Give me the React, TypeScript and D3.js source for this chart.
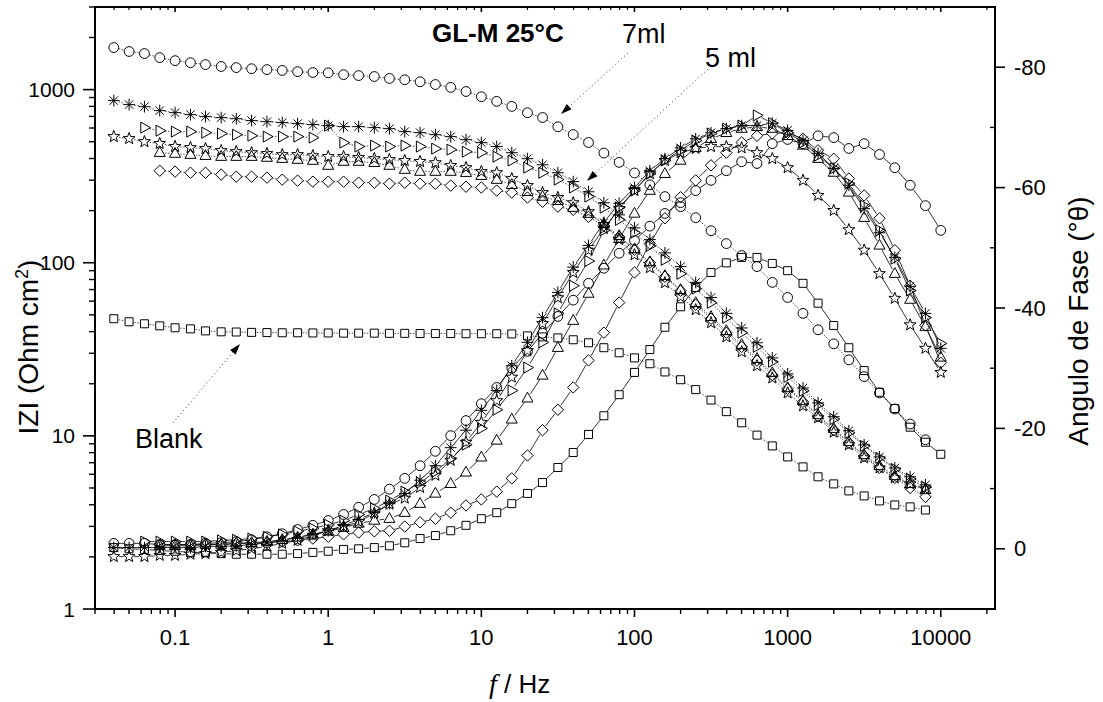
import React from "react";
import * as d3 from "d3";

// Frequencies of the sweep (Hz), 10 points per decade
const FREQ_HZ = [0.0398, 0.0501, 0.0631, 0.0794, 0.1, 0.126, 0.158, 0.2, 0.251, 0.316, 0.398, 0.501, 0.631, 0.794, 1, 1.26, 1.58, 2, 2.51, 3.16, 3.98, 5.01, 6.31, 7.94, 10, 12.6, 15.8, 20, 25.1, 31.6, 39.8, 50.1, 63.1, 79.4, 100, 126, 158, 200, 251, 316, 398, 501, 631, 794, 1000, 1260, 1580, 2000, 2510, 3160, 3980, 5010, 6310, 7940, 10000];

// |Z| (Ohm cm2) series; each starts at FREQ_HZ[start]
const Z_CIRCLE = [1750, 1660, 1615, 1530, 1470, 1430, 1395, 1360, 1340, 1320, 1305, 1290, 1270, 1255, 1250, 1220, 1205, 1190, 1160, 1140, 1110, 1070, 1030, 975, 910, 855, 800, 735, 690, 610, 550, 495, 430, 380, 330, 282, 241, 211, 182, 153, 129, 110, 95, 77, 63, 51, 41, 34, 27.5, 22, 17.7, 14.3, 11.7, 9.5];
const Z_ASTER = [864, 819, 797, 756, 736, 717, 698, 689, 679, 662, 653, 645, 636, 628, 619, 611, 611, 603, 595, 572, 564, 549, 535, 514, 494, 469, 432, 399, 368, 331, 294, 257, 222, 189, 159, 136, 114, 95, 77, 63, 51, 42, 34.5, 28.2, 22.8, 18.9, 15.5, 12.9, 10.7, 8.87, 7.56, 6.53, 5.8, 5.21];
const Z_TRI_RIGHT = [603, 579, 572, 572, 564, 557, 549, 542, 535, 535, 535, 528, 619, 494, 469, 475, 469, 475, 469, 456, 450, 438, 432, 410, 389, 354, 331, 302, 272, 241, 208, 177, 149, 125, 104, 86.3, 70.8, 58.7, 48.1, 39.4, 32.7, 26.8, 21.9, 18.2, 15.1, 12.5, 10.4, 8.75, 7.46, 6.44, 5.64, 5.07];
const Z_STAR = [535, 521, 500, 488, 469, 462, 456, 444, 438, 432, 427, 421, 421, 415, 410, 410, 405, 399, 394, 389, 384, 378, 364, 354, 336, 331, 306, 279, 254, 238, 222, 197, 166, 136, 111, 93.5, 76.6, 63.6, 53.5, 45.0, 37.3, 30.6, 25.4, 21.6, 17.7, 14.9, 12.7, 10.5, 8.87, 7.46, 6.53, 5.72, 5.28, 4.94];
const Z_TRI_UP = [432, 427, 421, 415, 410, 410, 410, 405, 399, 394, 389, 364, 384, 384, 378, 364, 345, 336, 336, 336, 331, 318, 302, 282, 257, 241, 228, 208, 192, 168, 143, 120, 101, 84.1, 69.8, 58.7, 48.7, 40.4, 33.6, 27.9, 23.1, 18.9, 15.9, 13.2, 11.0, 9.23, 7.76, 6.71, 5.87, 5.28, 4.87];
const Z_DIAMOND = [340, 336, 331, 331, 323, 314, 314, 310, 302, 298, 294, 294, 294, 290, 290, 286, 290, 286, 286, 279, 275, 272, 261, 254, 238, 225, 211, 202, 184, 164, 141, 119, 100, 83.0, 68.9, 57.2, 47.5, 39.4, 32.7, 27.2, 22.5, 18.7, 15.7, 13.0, 10.8, 9.12, 7.66, 6.53, 5.72, 5.0, 4.44];
const Z_BLANK = [47.5, 45.6, 44.4, 43.2, 42.1, 41.5, 40.4, 39.9, 39.8, 39.6, 39.5, 39.4, 39.4, 39.3, 39.3, 39.2, 39.2, 39.2, 39.1, 39.1, 39.0, 39.0, 39.0, 38.9, 38.9, 38.9, 38.8, 37.8, 37.3, 36.8, 35.9, 34.5, 32.3, 30.2, 28.2, 26.1, 23.4, 21.1, 18.5, 16.1, 13.8, 11.9, 10.1, 8.75, 7.56, 6.62, 5.8, 5.28, 4.81, 4.5, 4.21, 3.99, 3.89, 3.73];

// Phase angle (degrees) series
const PH_CIRCLE = [-0.9, -0.9, -0.9, -0.7, -0.7, -0.7, -0.9, -1.0, -1.2, -1.5, -2.0, -2.5, -3.2, -3.9, -4.7, -5.7, -6.9, -8.2, -9.9, -11.7, -13.8, -16.2, -18.8, -21.3, -24.1, -26.8, -30.0, -32.8, -35.8, -38.6, -41.3, -44.1, -46.6, -49.1, -51.2, -53.6, -55.7, -57.5, -59.5, -61.2, -62.8, -64.3, -64.0, -67.3, -68.0, -67.3, -68.6, -68.3, -66.5, -67.3, -65.5, -63.3, -60.4, -57.0, -52.9];
const PH_ASTER = [-0.2, -0.2, -0.2, -0.2, -0.2, -0.2, -0.4, -0.4, -0.5, -0.7, -1.0, -1.4, -1.9, -2.4, -3.0, -3.9, -4.9, -6.0, -7.5, -9.2, -11.4, -13.8, -16.8, -19.7, -23.0, -26.3, -30.4, -34.3, -38.4, -42.6, -46.8, -50.4, -54.2, -57.4, -60.0, -62.8, -64.8, -66.6, -68.1, -69.1, -69.8, -70.3, -70.3, -70.7, -69.5, -67.8, -65.7, -63.2, -60.4, -56.5, -52.5, -48.4, -43.6, -39.1, -33.3];
const PH_TRI_RIGHT = [-1.2, -1.2, -1.2, -1.2, -1.2, -1.4, -1.5, -1.7, -2.0, -2.4, -2.9, -3.4, -4.0, -4.7, -5.7, -6.7, -8.0, -9.5, -11.0, -12.8, -15.0, -17.3, -20.0, -23.1, -26.3, -30.1, -34.3, -39.1, -43.7, -47.8, -52.9, -56.7, -59.5, -62.3, -64.5, -66.2, -67.8, -69.0, -69.8, -70.3, -72.0, -70.7, -69.1, -67.5, -65.3, -63.2, -60.7, -57.0, -52.9, -48.2, -42.9, -38.4, -34.1];
const PH_STAR = [1.3, 1.3, 1.3, 1.1, 1.1, 0.9, 0.8, 0.6, 0.3, 0.0, -0.4, -0.9, -1.4, -2.2, -3.0, -3.7, -4.5, -5.9, -7.4, -8.4, -10.2, -12.2, -14.7, -17.7, -21.0, -24.6, -28.5, -32.9, -37.4, -41.7, -45.9, -49.6, -53.2, -56.5, -59.5, -62.3, -64.5, -65.8, -66.5, -66.8, -66.8, -66.6, -65.8, -64.8, -63.3, -61.2, -58.7, -56.2, -53.0, -49.6, -45.7, -41.6, -37.2, -33.3, -29.3];
const PH_TRI_UP = [-0.5, -0.5, -0.5, -0.7, -0.7, -0.9, -1.0, -1.2, -1.5, -1.9, -2.4, -2.9, -3.5, -4.2, -4.7, -5.0, -6.0, -7.5, -9.2, -10.8, -12.7, -15.2, -18.0, -21.5, -25.0, -28.8, -33.4, -37.9, -42.4, -47.1, -51.5, -55.7, -59.5, -62.3, -64.5, -66.6, -68.1, -69.1, -69.8, -70.1, -69.8, -68.6, -67.0, -64.8, -62.5, -59.2, -55.0, -50.4, -45.7, -41.4, -36.9, -31.8];
const PH_DIAMOND = [-0.7, -0.7, -0.7, -0.7, -0.7, -0.9, -0.9, -1.0, -1.2, -1.4, -1.7, -2.0, -2.4, -2.7, -2.9, -3.0, -3.7, -4.4, -5.0, -6.0, -7.2, -8.2, -9.5, -11.7, -15.5, -19.7, -23.1, -26.8, -31.3, -35.9, -40.9, -45.9, -50.7, -54.9, -58.4, -61.2, -63.7, -65.8, -67.5, -68.6, -69.0, -69.1, -68.1, -66.2, -64.8, -61.5, -58.7, -54.9, -49.6, -43.7, -37.1, -30.9];
const PH_SQUARE = [-0.2, 0.0, 0.1, 0.3, 0.4, 0.6, 0.6, 0.8, 0.9, 0.9, 0.9, 0.9, 0.8, 0.6, 0.4, 0.1, 0.0, -0.2, -0.5, -1.0, -1.7, -2.2, -3.0, -3.9, -5.0, -6.0, -7.5, -9.2, -11.0, -13.5, -16.0, -19.0, -22.1, -25.6, -29.3, -33.1, -36.8, -40.2, -43.4, -45.9, -47.5, -48.4, -48.4, -47.4, -46.2, -44.1, -40.8, -37.1, -33.4, -29.6, -26.0, -23.3, -20.2, -17.7, -15.7];

const X_MAJOR = [0.1, 1, 10, 100, 1000, 10000];
const X_LABELS = ["0.1", "1", "10", "100", "1000", "10000"];
const YZ_MAJOR = [1, 10, 100, 1000];
const YZ_LABELS = ["1", "10", "100", "1000"];
const YP_MAJOR = [-80, -60, -40, -20, 0];
const YP_LABELS = ["-80", "-60", "-40", "-20", "0"];
const YP_MINOR = [-70, -50, -30, -10];

const SERIES = [
  { marker: "circle", zStart: 0, z: Z_CIRCLE, pStart: 0, p: PH_CIRCLE },
  { marker: "asterisk", zStart: 0, z: Z_ASTER, pStart: 0, p: PH_ASTER },
  { marker: "triRight", zStart: 2, z: Z_TRI_RIGHT, pStart: 2, p: PH_TRI_RIGHT },
  { marker: "star", zStart: 0, z: Z_STAR, pStart: 0, p: PH_STAR },
  { marker: "triUp", zStart: 3, z: Z_TRI_UP, pStart: 3, p: PH_TRI_UP },
  { marker: "diamond", zStart: 3, z: Z_DIAMOND, pStart: 3, p: PH_DIAMOND },
  { marker: "square", zStart: 0, z: Z_BLANK, pStart: 0, p: PH_SQUARE },
];

const FONT = "'Liberation Sans', Arial, Helvetica, sans-serif";

function starPath(R: number, r: number) {
  const pts = d3.range(10).map((i) => {
    const a = -Math.PI / 2 + (i * Math.PI) / 5;
    const rad = i % 2 === 0 ? R : r;
    return [rad * Math.cos(a), rad * Math.sin(a)];
  });
  return "M" + pts.map((p) => p[0].toFixed(2) + "," + p[1].toFixed(2)).join("L") + "Z";
}

const MARKER_PATHS: Record<string, string> = {
  square: "M-4,-4H4V4H-4Z",
  diamond: "M0,-5.7L5.7,0L0,5.7L-5.7,0Z",
  triUp: "M0,-6.1L5.5,3.7L-5.5,3.7Z",
  triRight: "M-3.7,-5.5L6.1,0L-3.7,5.5Z",
  star: starPath(6.2, 2.6),
  asterisk: "M0,-5.9V5.9M-5.9,0H5.9M-4.2,-4.2L4.2,4.2M-4.2,4.2L4.2,-4.2",
};

function Marker({ type, x, y }: { type: string; x: number; y: number }) {
  if (type === "circle") {
    return <circle cx={x} cy={y} r={4.9} fill="none" stroke="#000" strokeWidth={1} />;
  }
  return (
    <path
      d={MARKER_PATHS[type]}
      transform={`translate(${x},${y})`}
      fill="none"
      stroke="#000"
      strokeWidth={1}
      strokeLinejoin="miter"
    />
  );
}

function gapPath(pts: [number, number][], gap: number) {
  let d = "";
  for (let i = 0; i < pts.length - 1; i++) {
    const [x1, y1] = pts[i];
    const [x2, y2] = pts[i + 1];
    const dx = x2 - x1, dy = y2 - y1;
    const len = Math.hypot(dx, dy);
    if (len <= 2 * gap + 0.5) continue;
    const ux = dx / len, uy = dy / len;
    d += `M${(x1 + ux * gap).toFixed(2)},${(y1 + uy * gap).toFixed(2)}L${(x2 - ux * gap).toFixed(2)},${(y2 - uy * gap).toFixed(2)}`;
  }
  return d;
}

function Arrow({ x1, y1, x2, y2 }: { x1: number; y1: number; x2: number; y2: number }) {
  const dx = x2 - x1, dy = y2 - y1;
  const len = Math.hypot(dx, dy);
  const ux = dx / len, uy = dy / len;
  const hl = 11, hw = 3.6;
  const bx = x2 - ux * hl, by = y2 - uy * hl;
  const px = -uy, py = ux;
  return (
    <g>
      <line x1={x1} y1={y1} x2={bx} y2={by} stroke="#333" strokeWidth={1} strokeDasharray="1,3" />
      <path
        d={`M${x2},${y2}L${bx + px * hw},${by + py * hw}L${bx - px * hw},${by - py * hw}Z`}
        fill="#000"
      />
    </g>
  );
}

export default function App() {
  const L = 95, R = 995, T = 7, B = 609;
  const x = d3.scaleLog().domain([0.03, 22600]).range([L, R]);
  const yZ = d3.scaleLog().domain([1, 3000]).range([B, T]);
  const yP = d3.scaleLinear().domain([10, -90]).range([B, T]);

  const xMinor: number[] = [];
  [0.01, 0.1, 1, 10, 100, 1000, 10000].forEach((dec) => {
    for (let m = 2; m <= 9; m++) {
      const v = m * dec;
      if (v >= 0.03 && v <= 22600) xMinor.push(v);
    }
  });
  const yMinor: number[] = [];
  [1, 10, 100, 1000].forEach((dec) => {
    for (let m = 2; m <= 9; m++) {
      const v = m * dec;
      if (v <= 3000) yMinor.push(v);
    }
  });

  const zPts = SERIES.map((s) =>
    s.z.map((v, i) => [x(FREQ_HZ[s.zStart + i]), yZ(v)] as [number, number])
  );
  const pPts = SERIES.map((s) =>
    s.p.map((v, i) => [x(FREQ_HZ[s.pStart + i]), yP(v)] as [number, number])
  );

  return (
    <svg
      width={1103}
      height={702}
      style={{ position: "absolute", left: 0, top: 0, background: "#fff" }}
      fontFamily={FONT}
    >
      <rect x={0} y={0} width={1103} height={702} fill="#fff" />

      {/* connecting lines */}
      {zPts.map((pts, i) => (
        <path key={"zl" + i} d={gapPath(pts, 5.2)} fill="none" stroke="#222" strokeWidth={0.8} strokeDasharray="1.5,1.5" />
      ))}
      {pPts.map((pts, i) => (
        <path key={"pl" + i} d={gapPath(pts, 5.2)} fill="none" stroke="#000" strokeWidth={0.8} />
      ))}

      {/* markers */}
      {zPts.map((pts, i) =>
        pts.map((p, j) => <Marker key={`zm${i}-${j}`} type={SERIES[i].marker} x={p[0]} y={p[1]} />)
      )}
      {pPts.map((pts, i) =>
        pts.map((p, j) => <Marker key={`pm${i}-${j}`} type={SERIES[i].marker} x={p[0]} y={p[1]} />)
      )}

      {/* frame */}
      <rect x={L} y={T} width={R - L} height={B - T} fill="none" stroke="#000" strokeWidth={2} />

      {/* bottom axis ticks */}
      {X_MAJOR.map((v, i) => (
        <g key={"xt" + i}>
          <line x1={x(v)} x2={x(v)} y1={B} y2={B + 8} stroke="#000" strokeWidth={1.6} />
          <line x1={x(v)} x2={x(v)} y1={T} y2={T + 5} stroke="#000" strokeWidth={1.6} />
          <text x={x(v)} y={645} textAnchor="middle" fontSize={22}>{X_LABELS[i]}</text>
        </g>
      ))}
      {xMinor.map((v, i) => (
        <g key={"xm" + i}>
          <line x1={x(v)} x2={x(v)} y1={B} y2={B + 5} stroke="#000" strokeWidth={1.4} />
          <line x1={x(v)} x2={x(v)} y1={T} y2={T + 3} stroke="#000" strokeWidth={1.2} />
        </g>
      ))}

      {/* left axis ticks */}
      {YZ_MAJOR.map((v, i) => (
        <g key={"yt" + i}>
          <line x1={L - 12} x2={L} y1={yZ(v)} y2={yZ(v)} stroke="#000" strokeWidth={1.6} />
          <text x={75} y={yZ(v) + 7.5} textAnchor="end" fontSize={21}>{YZ_LABELS[i]}</text>
        </g>
      ))}
      {yMinor.map((v, i) => (
        <line key={"ym" + i} x1={L - 6} x2={L} y1={yZ(v)} y2={yZ(v)} stroke="#000" strokeWidth={1.4} />
      ))}

      {/* right axis ticks */}
      {YP_MAJOR.map((v, i) => (
        <g key={"pt" + i}>
          <line x1={R} x2={R + 10} y1={yP(v)} y2={yP(v)} stroke="#000" strokeWidth={1.6} />
          <text x={1014} y={yP(v) + 7.5} textAnchor="start" fontSize={22}>{YP_LABELS[i]}</text>
        </g>
      ))}
      {YP_MINOR.map((v, i) => (
        <line key={"pm" + i} x1={R - 5} x2={R} y1={yP(v)} y2={yP(v)} stroke="#000" strokeWidth={1.4} />
      ))}

      {/* axis titles */}
      <text transform="translate(38,347) rotate(-90)" textAnchor="middle" fontSize={28}>
        IZI (Ohm cm<tspan dy={-10} fontSize={18}>2</tspan><tspan dy={10}>)</tspan>
      </text>
      <text transform="translate(1088,321) rotate(-90)" textAnchor="middle" fontSize={28}>
        Angulo de Fase (°θ)
      </text>
      <text x={489} y={693} fontSize={26}>
        <tspan fontFamily="'Liberation Serif', 'Times New Roman', serif" fontStyle="italic" fontSize={28}>f</tspan>
        <tspan> / Hz</tspan>
      </text>

      {/* annotations */}
      <text x={432} y={42} fontSize={26} fontWeight="bold">GL-M 25°C</text>
      <text x={622} y={43} fontSize={27}>7ml</text>
      <text x={705} y={67} fontSize={27}>5 ml</text>
      <text x={135} y={448} fontSize={27}>Blank</text>
      <Arrow x1={628} y1={53} x2={561} y2={114} />
      <Arrow x1={708} y1={69} x2={587} y2={181} />
      <Arrow x1={173} y1={423} x2={240} y2={344} />
    </svg>
  );
}
